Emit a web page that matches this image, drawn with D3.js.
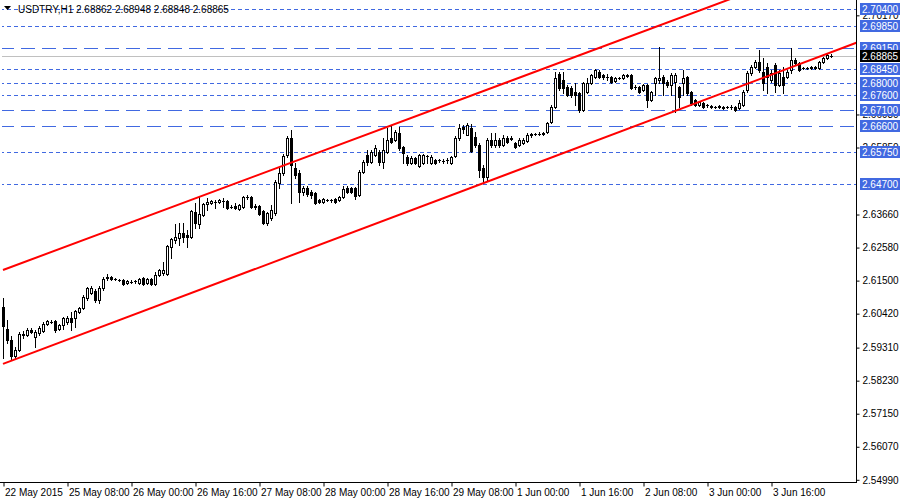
<!DOCTYPE html>
<html><head><meta charset="utf-8">
<script src="https://cdn.jsdelivr.net/npm/d3@7"></script>
<style>
body{margin:0;background:#fff;}
svg{display:block;}
text{font-family:"Liberation Sans",Arial,sans-serif;font-size:10px;}
</style>
</head><body>
<svg id="chart" width="900" height="500"></svg>
<script>
const symbolName = "USDTRY,H1";
const headerOHLC = [2.68862, 2.68948, 2.68848, 2.68865];

const opens = [
2.6067,2.5995,2.5959,2.5907,2.5927,2.5975,2.5975,2.5992,2.5969,2.5982,
2.5989,2.6011,2.6018,2.6021,2.5995,2.6008,2.6018,2.6031,2.6031,2.6051,
2.6064,2.6096,2.6113,2.6119,2.6090,2.6129,2.6162,2.6165,2.6158,2.6155,
2.6155,2.6145,2.6149,2.6152,2.6145,2.6162,2.6145,2.6158,2.6142,2.6172,
2.6178,2.6175,2.6263,2.6286,2.6292,2.6309,2.6302,2.6296,2.6377,2.6338,
2.6368,2.6404,2.6407,2.6410,2.6410,2.6413,2.6413,2.6394,2.6397,2.6387,
2.6394,2.6426,2.6426,2.6397,2.6397,2.6381,2.6342,2.6358,2.6374,2.6472,
2.6505,2.6564,2.6619,2.6521,2.6505,2.6443,2.6456,2.6443,2.6439,2.6417,
2.6410,2.6417,2.6417,2.6420,2.6417,2.6426,2.6456,2.6456,2.6456,2.6433,
2.6508,2.6564,2.6541,2.6564,2.6573,2.6541,2.6573,2.6619,2.6613,2.6636,
2.6590,2.6557,2.6537,2.6554,2.6528,2.6537,2.6560,2.6537,2.6547,2.6547,
2.6544,2.6547,2.6537,2.6560,2.6619,2.6655,2.6629,2.6652,2.6623,2.6596,
2.6521,2.6492,2.6613,2.6596,2.6613,2.6596,2.6619,2.6619,2.6603,2.6596,
2.6603,2.6609,2.6629,2.6632,2.6632,2.6632,2.6639,2.6672,2.6721,2.6828,
2.6809,2.6786,2.6783,2.6770,2.6766,2.6711,2.6770,2.6799,2.6819,2.6835,
2.6825,2.6819,2.6819,2.6806,2.6815,2.6815,2.6825,2.6825,2.6786,2.6786,
2.6776,2.6793,2.6744,2.6799,2.6809,2.6819,2.6802,2.6793,2.6802,2.6786,
2.6799,2.6819,2.6770,2.6744,2.6727,2.6734,2.6727,2.6724,2.6721,2.6721,
2.6721,2.6721,2.6721,2.6721,2.6718,2.6727,2.6776,2.6832,2.6851,2.6868,
2.6835,2.6851,2.6809,2.6858,2.6793,2.6819,2.6819,2.6842,2.6874,2.6864,
2.6848,2.6848,2.6848,2.6851,2.6848,2.6868,2.6881,2.68862];

const highs = [
2.6096,2.6025,2.5972,2.5936,2.5985,2.5989,2.5998,2.5998,2.5992,2.6005,
2.6018,2.6025,2.6025,2.6025,2.6011,2.6034,2.6038,2.6051,2.6057,2.6067,
2.6106,2.6132,2.6136,2.6126,2.6136,2.6165,2.6175,2.6168,2.6162,2.6158,
2.6158,2.6155,2.6155,2.6155,2.6162,2.6165,2.6162,2.6162,2.6181,2.6191,
2.6214,2.6270,2.6292,2.6338,2.6342,2.6342,2.6319,2.6384,2.6407,2.6426,
2.6407,2.6423,2.6417,2.6417,2.6420,2.6423,2.6417,2.6400,2.6407,2.6404,
2.6430,2.6433,2.6430,2.6404,2.6400,2.6384,2.6377,2.6400,2.6482,2.6521,
2.6567,2.6626,2.6646,2.6537,2.6515,2.6462,2.6462,2.6449,2.6443,2.6420,
2.6423,2.6420,2.6420,2.6423,2.6430,2.6462,2.6462,2.6459,2.6459,2.6515,
2.6547,2.6580,2.6580,2.6596,2.6580,2.6619,2.6652,2.6662,2.6646,2.6655,
2.6593,2.6564,2.6560,2.6557,2.6567,2.6567,2.6564,2.6564,2.6551,2.6551,
2.6551,2.6554,2.6560,2.6626,2.6665,2.6662,2.6669,2.6665,2.6639,2.6603,
2.6531,2.6619,2.6636,2.6636,2.6619,2.6629,2.6626,2.6626,2.6606,2.6619,
2.6619,2.6636,2.6636,2.6636,2.6639,2.6639,2.6672,2.6727,2.6835,2.6835,
2.6835,2.6793,2.6789,2.6799,2.6770,2.6802,2.6815,2.6828,2.6845,2.6842,
2.6828,2.6828,2.6822,2.6819,2.6819,2.6828,2.6828,2.6828,2.6793,2.6789,
2.6796,2.6796,2.6773,2.6819,2.6917,2.6825,2.6809,2.6832,2.6832,2.6789,
2.6842,2.6822,2.6773,2.6747,2.6740,2.6737,2.6731,2.6727,2.6724,2.6727,
2.6724,2.6724,2.6727,2.6724,2.6744,2.6776,2.6838,2.6858,2.6874,2.6907,
2.6881,2.6864,2.6842,2.6864,2.6842,2.6851,2.6842,2.6913,2.6881,2.6868,
2.6851,2.6851,2.6855,2.6855,2.6871,2.6884,2.6894,2.68948];

const lows = [
2.5900,2.5949,2.5894,2.5897,2.5923,2.5966,2.5972,2.5982,2.5936,2.5975,
2.5985,2.6008,2.6015,2.5985,2.5992,2.5995,2.6011,2.5992,2.6002,2.6047,
2.6060,2.6090,2.6109,2.6083,2.6080,2.6123,2.6155,2.6155,2.6155,2.6152,
2.6139,2.6142,2.6145,2.6145,2.6142,2.6139,2.6142,2.6139,2.6139,2.6168,
2.6172,2.6172,2.6227,2.6276,2.6270,2.6279,2.6263,2.6292,2.6325,2.6325,
2.6364,2.6384,2.6404,2.6391,2.6407,2.6394,2.6387,2.6391,2.6387,2.6384,
2.6391,2.6420,2.6391,2.6387,2.6368,2.6338,2.6335,2.6351,2.6368,2.6456,
2.6498,2.6557,2.6407,2.6488,2.6410,2.6433,2.6430,2.6423,2.6404,2.6407,
2.6407,2.6413,2.6410,2.6407,2.6413,2.6423,2.6439,2.6439,2.6420,2.6430,
2.6505,2.6531,2.6537,2.6560,2.6531,2.6521,2.6570,2.6603,2.6609,2.6580,
2.6537,2.6531,2.6534,2.6534,2.6524,2.6534,2.6537,2.6534,2.6534,2.6541,
2.6537,2.6537,2.6534,2.6557,2.6613,2.6636,2.6629,2.6573,2.6590,2.6492,
2.6472,2.6482,2.6590,2.6590,2.6590,2.6593,2.6603,2.6613,2.6587,2.6593,
2.6600,2.6606,2.6623,2.6629,2.6629,2.6629,2.6636,2.6669,2.6718,2.6776,
2.6766,2.6757,2.6753,2.6727,2.6705,2.6708,2.6766,2.6796,2.6815,2.6815,
2.6812,2.6809,2.6799,2.6802,2.6812,2.6812,2.6819,2.6779,2.6779,2.6766,
2.6773,2.6721,2.6740,2.6760,2.6799,2.6760,2.6786,2.6760,2.6705,2.6721,
2.6760,2.6760,2.6727,2.6724,2.6724,2.6718,2.6721,2.6718,2.6718,2.6718,
2.6714,2.6718,2.6714,2.6708,2.6714,2.6724,2.6770,2.6825,2.6848,2.6835,
2.6776,2.6766,2.6802,2.6770,2.6789,2.6766,2.6815,2.6832,2.6861,2.6838,
2.6845,2.6845,2.6845,2.6845,2.6845,2.6864,2.6877,2.68848];

const closes = [
2.6005,2.5959,2.5907,2.5927,2.5979,2.5979,2.5992,2.5985,2.5985,2.5998,
2.6011,2.6021,2.6018,2.5992,2.6008,2.6031,2.6031,2.6018,2.6054,2.6064,
2.6100,2.6129,2.6129,2.6090,2.6129,2.6158,2.6165,2.6158,2.6158,2.6155,
2.6142,2.6152,2.6149,2.6152,2.6158,2.6142,2.6158,2.6142,2.6172,2.6188,
2.6188,2.6266,2.6289,2.6296,2.6309,2.6296,2.6296,2.6381,2.6342,2.6371,
2.6404,2.6410,2.6413,2.6410,2.6417,2.6413,2.6391,2.6394,2.6391,2.6400,
2.6426,2.6426,2.6394,2.6394,2.6371,2.6342,2.6374,2.6384,2.6475,2.6505,
2.6560,2.6619,2.6531,2.6498,2.6443,2.6456,2.6436,2.6433,2.6407,2.6410,
2.6420,2.6417,2.6417,2.6410,2.6426,2.6453,2.6443,2.6443,2.6430,2.6508,
2.6541,2.6541,2.6573,2.6587,2.6541,2.6580,2.6613,2.6606,2.6639,2.6587,
2.6570,2.6537,2.6554,2.6537,2.6564,2.6564,2.6560,2.6557,2.6537,2.6547,
2.6544,2.6547,2.6557,2.6619,2.6652,2.6649,2.6662,2.6577,2.6596,2.6515,
2.6492,2.6613,2.6596,2.6613,2.6596,2.6619,2.6606,2.6616,2.6590,2.6613,
2.6613,2.6629,2.6632,2.6632,2.6632,2.6636,2.6669,2.6721,2.6815,2.6783,
2.6783,2.6760,2.6760,2.6760,2.6711,2.6799,2.6799,2.6825,2.6842,2.6819,
2.6819,2.6819,2.6802,2.6815,2.6815,2.6825,2.6822,2.6783,2.6786,2.6770,
2.6793,2.6744,2.6770,2.6815,2.6815,2.6799,2.6793,2.6825,2.6825,2.6753,
2.6815,2.6766,2.6734,2.6727,2.6737,2.6721,2.6727,2.6721,2.6721,2.6724,
2.6718,2.6721,2.6721,2.6711,2.6734,2.6770,2.6832,2.6851,2.6868,2.6842,
2.6799,2.6819,2.6832,2.6793,2.6832,2.6793,2.6835,2.6874,2.6864,2.6842,
2.6848,2.6848,2.6851,2.6848,2.6868,2.6881,2.6891,2.68865];

const timeLabels = ["22 May 2015","25 May 08:00","26 May 00:00","26 May 16:00","27 May 08:00",
  "28 May 00:00","28 May 16:00","29 May 08:00","1 Jun 00:00","1 Jun 16:00","2 Jun 08:00",
  "3 Jun 00:00","3 Jun 16:00"];
const timeLabelBars = [0,16,32,48,64,80,96,112,128,144,160,176,192];

// price scale labels that are not hidden behind the level labels
const priceTicks = [2.5499,2.5607,2.5715,2.5823,2.5931,2.6042,2.6150,2.6258,2.6366,
  2.6585,2.6693,2.7017];

const shortDashLevels = [2.7040, 2.6985, 2.6845, 2.6800, 2.6760, 2.6575, 2.6470];
const longDashLevels = [2.6915, 2.6710, 2.6660];
const bidPrice = 2.68865;

// trend channel anchors: [bar index, price]
const channelUpper = [[0, 2.6188], [200, 2.7162]];
const channelLower = [[0, 2.5881], [214, 2.6934]];

// ---------------------------------------------------------------
const svg = d3.select("#chart");
const W = 900, H = 500;
const plotLeft = 2, plotRight = 856, plotTop = 0, plotBottom = 482;

const x = d3.scaleLinear().domain([0, 200]).range([3, 803]);
const y = d3.scaleLinear().domain([2.5499, 2.7040]).range([480.8, 9.3]);

svg.append("rect").attr("width", W).attr("height", H).attr("fill", "#fff");

svg.append("defs").append("clipPath").attr("id", "plotclip")
  .append("rect").attr("x", plotLeft).attr("y", plotTop)
  .attr("width", plotRight - plotLeft).attr("height", plotBottom - plotTop);

const plot = svg.append("g").attr("clip-path", "url(#plotclip)");

const levelColor = "#4169E1";
const py = v => Math.round(y(v)) + 0.5;

// horizontal levels
plot.selectAll("line.sl").data(shortDashLevels).enter().append("line")
  .attr("x1", 0).attr("x2", plotRight)
  .attr("y1", py).attr("y2", py)
  .attr("stroke", levelColor).attr("stroke-width", 1)
  .attr("stroke-dasharray", "4,3");
plot.selectAll("line.ll").data(longDashLevels).enter().append("line")
  .attr("x1", 0).attr("x2", plotRight)
  .attr("y1", py).attr("y2", py)
  .attr("stroke", levelColor).attr("stroke-width", 1)
  .attr("stroke-dasharray", "14,7");

// bid line
plot.append("line").attr("x1", 0).attr("x2", plotRight)
  .attr("y1", py(bidPrice)).attr("y2", py(bidPrice))
  .attr("stroke", "#C0C0C0").attr("stroke-width", 1);

// candles
const bars = opens.map((o, i) => ({i, o, h: highs[i], l: lows[i], c: closes[i]}));
const cg = plot.append("g");
bars.forEach(b => {
  const cx = Math.round(x(b.i));
  const yh = Math.round(y(b.h)), yl = Math.round(y(b.l));
  const yTop = Math.round(y(Math.max(b.o, b.c))), yBot = Math.round(y(Math.min(b.o, b.c)));
  cg.append("line").attr("x1", cx + 0.5).attr("x2", cx + 0.5)
    .attr("y1", yh).attr("y2", yl + 1)
    .attr("stroke", "#000").attr("stroke-width", 1);
  if (yBot - yTop < 1) {
    cg.append("line").attr("x1", cx - 1).attr("x2", cx + 2)
      .attr("y1", yTop + 0.5).attr("y2", yTop + 0.5)
      .attr("stroke", "#000").attr("stroke-width", 1);
  } else {
    cg.append("rect").attr("x", cx - 0.5).attr("y", yTop + 0.5)
      .attr("width", 2).attr("height", yBot - yTop)
      .attr("fill", b.c >= b.o ? "#fff" : "#000")
      .attr("stroke", "#000").attr("stroke-width", 1);
  }
});

// channel lines
const chLine = d3.line().x(d => x(d[0])).y(d => y(d[1]));
[channelUpper, channelLower].forEach(ch => {
  plot.append("path").attr("d", chLine(ch))
    .attr("fill", "none").attr("stroke", "#FF0000").attr("stroke-width", 2);
});

// title
svg.append("path").attr("d", "M4,6 L11,6 L7.5,10 Z").attr("fill", "#000");
svg.append("text").attr("x", 18).attr("y", 12.5).attr("fill", "#000")
  .text(symbolName + "  " + headerOHLC.map(v => v.toFixed(5)).join(" "));

// frame
svg.append("line").attr("x1", plotRight + 0.5).attr("x2", plotRight + 0.5)
  .attr("y1", 0).attr("y2", plotBottom + 0.5).attr("stroke", "#000");
svg.append("line").attr("x1", 0).attr("x2", plotRight + 1)
  .attr("y1", plotBottom + 0.5).attr("y2", plotBottom + 0.5).attr("stroke", "#000");

// right price axis
const yAxis = d3.axisRight(y).tickValues(priceTicks).tickSize(3).tickPadding(3)
  .tickFormat(d3.format(".5f"));
const ya = svg.append("g").attr("transform", `translate(${plotRight + 0.5},-1)`).call(yAxis);
ya.select(".domain").remove();
ya.selectAll("text").attr("fill", "#000").style("font-family", '"Liberation Sans",Arial,sans-serif').style("font-size", "10px");

// bottom time axis
const xAxis = d3.axisBottom(x).tickValues(timeLabelBars).tickSize(4).tickPadding(2)
  .tickFormat((d, i) => timeLabels[i]);
const xa = svg.append("g").attr("transform", `translate(0.5,${plotBottom + 0.5})`).call(xAxis);
xa.select(".domain").remove();
xa.selectAll("text").attr("text-anchor", "start").attr("x", 1).attr("fill", "#000")
  .style("font-family", '"Liberation Sans",Arial,sans-serif').style("font-size", "10px");

// level labels
const allLevels = shortDashLevels.concat(longDashLevels);
const lg = svg.append("g");
allLevels.forEach(v => {
  const yy = Math.round(y(v));
  lg.append("rect").attr("x", 860).attr("y", yy - 6).attr("width", 40).attr("height", 12)
    .attr("fill", levelColor);
  lg.append("text").attr("x", 862).attr("y", yy).attr("dy", "0.35em")
    .attr("fill", "#fff").text(v.toFixed(5));
});
{
  const yy = Math.round(y(bidPrice));
  lg.append("rect").attr("x", 860).attr("y", yy - 6).attr("width", 40).attr("height", 12)
    .attr("fill", "#000");
  lg.append("text").attr("x", 862).attr("y", yy).attr("dy", "0.35em")
    .attr("fill", "#fff").text(bidPrice.toFixed(5));
}
</script>
</body></html>
